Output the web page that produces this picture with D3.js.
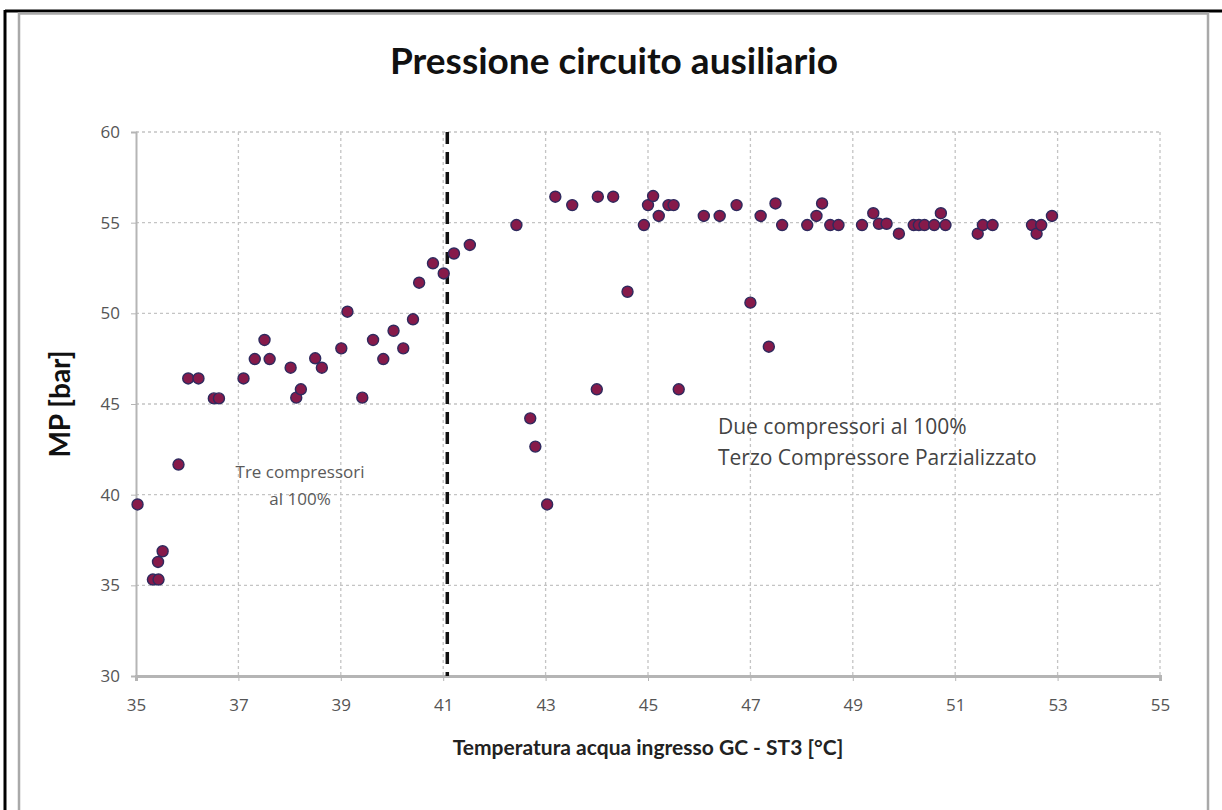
<!DOCTYPE html>
<html>
<head>
<meta charset="utf-8">
<script src="https://cdn.jsdelivr.net/npm/d3@7"></script>
<style>
  html, body { margin: 0; padding: 0; background: #fff; }
  svg { display: block; }
</style>
</head>
<body>
<svg id="chart" width="1222" height="810"></svg>
<script>
// ---- Data ----
const tempValues = [
  35.03, 35.33, 35.44, 35.43, 35.52, 35.83, 36.02, 36.22, 36.52, 36.62,
  37.10, 37.32, 37.51, 37.61, 38.02, 38.13, 38.22, 38.50, 38.63, 39.01,
  39.13, 39.42, 39.63, 39.83, 40.03, 40.22, 40.41, 40.53, 40.80, 41.01,
  41.21, 41.52, 42.43, 42.70, 42.80, 43.03, 43.19, 43.52, 44.02, 44.32,
  44.00, 44.60, 44.92, 45.00, 45.10, 45.21, 45.40, 45.50, 45.60, 46.09,
  46.40, 46.73, 47.00, 47.20, 47.36, 47.49, 47.62, 48.11, 48.29, 48.40,
  48.56, 48.72, 49.18, 49.40, 49.51, 49.66, 49.90, 50.19, 50.29, 50.40,
  50.59, 50.72, 50.81, 51.44, 51.54, 51.73, 52.50, 52.59, 52.68, 52.89
];
const pressureValues = [
  39.46, 35.32, 35.32, 36.29, 36.88, 41.66, 46.41, 46.41, 45.31, 45.31,
  46.41, 47.48, 48.53, 47.48, 47.00, 45.35, 45.81, 47.52, 47.00, 48.07,
  50.09, 45.35, 48.53, 47.48, 49.04, 48.07, 49.67, 51.69, 52.76, 52.20,
  53.30, 53.77, 54.87, 44.21, 42.65, 39.46, 56.43, 55.97, 56.43, 56.43,
  45.81, 51.19, 54.87, 55.97, 56.47, 55.37, 55.97, 55.97, 45.81, 55.37,
  55.37, 55.97, 50.59, 55.37, 48.16, 56.06, 54.87, 54.87, 55.37, 56.06,
  54.87, 54.87, 54.87, 55.52, 54.94, 54.94, 54.39, 54.87, 54.87, 54.87,
  54.87, 55.52, 54.87, 54.39, 54.87, 54.87, 54.87, 54.39, 54.87, 55.37
];
const xTicks = [35, 37, 39, 41, 43, 45, 47, 49, 51, 53, 55];
const yTicks = [30, 35, 40, 45, 50, 55, 60];
const thresholdTemp = [41.08];
const titleText = "Pressione circuito ausiliario";
const xTitle = "Temperatura acqua ingresso GC - ST3 [°C]";
const yTitle = "MP [bar]";
const noteLeft = ["Tre compressori", "al 100%"];
const noteRight = ["Due compressori al 100%", "Terzo Compressore Parzializzato"];

// ---- Layout ----
const svg = d3.select("#chart");
const W = 1222, H = 810;
const plot = { left: 136, right: 1160, top: 132, bottom: 676 };

const x = d3.scaleLinear().domain([35, 55]).range([plot.left, plot.right]);
const y = d3.scaleLinear().domain([30, 60]).range([plot.bottom, plot.top]);

const fontMain = "'Open Sans', 'Lato', 'Liberation Sans', sans-serif";
const fontBold = "'Lato', 'Open Sans', sans-serif";

// outer black frame (top + left)
svg.append("line").attr("x1", 5).attr("x2", W).attr("y1", 11).attr("y2", 11)
  .attr("stroke", "#000").attr("stroke-width", 3);
svg.append("line").attr("x1", 5).attr("x2", 5).attr("y1", 10).attr("y2", H)
  .attr("stroke", "#000").attr("stroke-width", 3);

// chart area gray frame
svg.append("rect").attr("x", 19).attr("y", 13.5).attr("width", 1189).attr("height", 820)
  .attr("fill", "#fff").attr("stroke", "#a9a9a9").attr("stroke-width", 2.5);

// title
svg.append("text").attr("x", 614).attr("y", 74).attr("text-anchor", "middle")
  .attr("font-family", fontBold).attr("font-weight", "bold")
  .attr("font-size", 37).attr("fill", "#111").text(titleText);

// gridlines
const grid = svg.append("g");
grid.selectAll(".gy").data(yTicks.filter(d => d !== 30)).enter().append("line")
  .attr("x1", plot.left).attr("x2", plot.right)
  .attr("y1", d => y(d)).attr("y2", d => y(d))
  .attr("stroke", "#c4c4c4").attr("stroke-width", 1.3).attr("stroke-dasharray", "3,3");
grid.selectAll(".gx").data(xTicks.filter(d => d !== 35)).enter().append("line")
  .attr("x1", d => x(d)).attr("x2", d => x(d))
  .attr("y1", plot.top).attr("y2", plot.bottom)
  .attr("stroke", "#c4c4c4").attr("stroke-width", 1.3).attr("stroke-dasharray", "3,3");

// axes
const xAxis = d3.axisBottom(x).tickValues(xTicks).tickSize(5).tickPadding(18);
const gx = svg.append("g").attr("transform", `translate(0,${plot.bottom})`).call(xAxis);
gx.select(".domain").attr("stroke", "#b5b5b5").attr("stroke-width", 3);
gx.selectAll(".tick line").attr("stroke", "#b5b5b5");
gx.selectAll(".tick text").attr("font-family", fontMain).attr("font-size", 17).attr("fill", "#555");

const yAxis = d3.axisLeft(y).tickValues(yTicks).tickSize(5).tickPadding(11);
const gy = svg.append("g").attr("transform", `translate(${plot.left},0)`).call(yAxis);
gy.select(".domain").attr("stroke", "#b5b5b5").attr("stroke-width", 2);
gy.selectAll(".tick line").attr("stroke", "#b5b5b5");
gy.selectAll(".tick text").attr("font-family", fontMain).attr("font-size", 17).attr("fill", "#555");

// dashed vertical threshold
svg.selectAll(".thr").data(thresholdTemp).enter().append("line")
  .attr("x1", d => x(d)).attr("x2", d => x(d))
  .attr("y1", plot.top).attr("y2", plot.bottom)
  .attr("stroke", "#111").attr("stroke-width", 3.5).attr("stroke-dasharray", "12,8");

// points
const pts = tempValues.map((t, i) => ({ t, p: pressureValues[i] }));
svg.append("g").selectAll("circle").data(pts).enter().append("circle")
  .attr("cx", d => x(d.t)).attr("cy", d => y(d.p)).attr("r", 5.5)
  .attr("fill", "#861a4a").attr("stroke", "#2f2a5e").attr("stroke-width", 1.4);

// annotations
const nl = svg.append("text").attr("font-family", fontMain).attr("font-size", 17)
  .attr("fill", "#5a5a5a").attr("text-anchor", "middle");
nl.selectAll("tspan").data(noteLeft).enter().append("tspan")
  .attr("x", 300).attr("y", (d, i) => 478 + i * 27).text(d => d);

const nr = svg.append("text").attr("font-family", fontMain).attr("font-size", 21)
  .attr("fill", "#444").attr("text-anchor", "start");
nr.selectAll("tspan").data(noteRight).enter().append("tspan")
  .attr("x", 718).attr("y", (d, i) => 434 + i * 31).text(d => d);

// axis titles
svg.append("text").attr("transform", `translate(70,${(plot.top + plot.bottom) / 2}) rotate(-90)`)
  .attr("text-anchor", "middle").attr("font-family", fontBold)
  .attr("font-weight", "bold").attr("font-size", 28).attr("fill", "#111").text(yTitle);

svg.append("text").attr("x", (plot.left + plot.right) / 2).attr("y", 755).attr("text-anchor", "middle")
  .attr("font-family", fontBold).attr("font-weight", "bold")
  .attr("font-size", 21).attr("fill", "#222").text(xTitle);
</script>
</body>
</html>
